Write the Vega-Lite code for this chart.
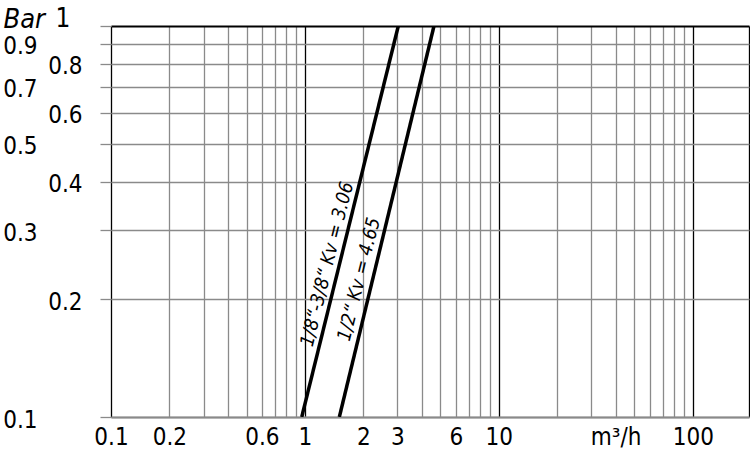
{
  "$schema": "https://vega.github.io/schema/vega-lite/v6.json",
  "width": 638,
  "height": 391,
  "autosize": {"type": "none"},
  "padding": {"left": 111, "top": 26, "right": 1, "bottom": 33},
  "background": "white",
  "config": {
    "view": {"stroke": null},
    "font": "Liberation Sans Narrow, DejaVu Sans Condensed, sans-serif"
  },
  "datasets": {
    "curves": [
      {"series": "a", "q": 0.963, "dp": 0.1},
      {"series": "a", "q": 3.03, "dp": 1.0},
      {"series": "b", "q": 1.505, "dp": 0.1},
      {"series": "b", "q": 4.63, "dp": 1.0}
    ],
    "labels": [
      {"text": "1/8“-3/8“ Kv = 3.06", "q": 1.3, "dp": 0.246},
      {"text": "1/2“ Kv = 4.65", "q": 1.9, "dp": 0.225}
    ]
  },
  "layer": [
    {
      "data": {"name": "curves"},
      "mark": {"type": "line", "color": "black", "strokeWidth": 3.5, "clip": true},
      "encoding": {
        "x": {
          "field": "q",
          "type": "quantitative",
          "scale": {"type": "log", "domain": [0.1, 195], "nice": false},
          "axis": {
            "values": [0.1, 0.2, 0.3, 0.4, 0.5, 0.6, 0.7, 0.8, 0.9, 1, 2, 3, 4, 5, 6, 7, 8, 9, 10, 20, 30, 40, 50, 60, 70, 80, 90, 100, 195],
            "grid": true,
            "gridColor": {"condition": {"test": "datum.value == 0.1 || datum.value == 1 || datum.value == 10 || datum.value == 100 || datum.value == 195", "value": "#000000"}, "value": "#8a8a8a"},
            "gridWidth": 1.3,
            "ticks": false,
            "domain": true,
            "domainColor": "#8a8a8a",
            "domainWidth": 2,
            "labelExpr": "indexof([0.1, 0.2, 0.6, 1, 2, 3, 6, 10, 100], datum.value) >= 0 ? '' + datum.value : (datum.value == 40 ? 'm³/h' : '')",
            "labelOverlap": false,
            "labelBound": false,
            "labelFlush": false,
            "labelFontSize": 24,
            "labelColor": "black",
            "labelPadding": 8,
            "title": null
          }
        },
        "y": {
          "field": "dp",
          "type": "quantitative",
          "scale": {"type": "log", "domain": [0.1, 1], "nice": false},
          "axis": {
            "values": [0.1, 0.2, 0.3, 0.4, 0.5, 0.6, 0.7, 0.8, 0.9, 1],
            "grid": true,
            "gridColor": {"condition": {"test": "datum.value == 1", "value": "#000000"}, "value": "#8a8a8a"},
            "gridWidth": {"condition": {"test": "datum.value == 1", "value": 2}, "value": 1.3},
            "tickColor": "#8a8a8a",
            "tickSize": 11,
            "tickWidth": 1.3,
            "domain": false,
            "labelExpr": "'' + datum.value",
            "labelOverlap": false,
            "labelBound": false,
            "labelFlush": false,
            "labelFontSize": {"condition": {"test": "datum.value == 1", "value": 26}, "value": 24},
            "labelColor": "black",
            "labelPadding": {"condition": [{"test": "indexof([0.9, 0.7, 0.5, 0.3, 0.1], datum.value) >= 0", "value": 63}, {"test": "datum.value == 1", "value": 30}], "value": 18},
            "labelBaseline": {"condition": {"test": "datum.value == 1", "value": "alphabetic"}, "value": "middle"},
            "labelOffset": {"condition": {"test": "datum.value == 1", "value": 0}, "value": 3},
            "title": "Bar",
            "titleAngle": 0,
            "titleFontStyle": "italic",
            "titleFontWeight": "normal",
            "titleFontSize": 27,
            "titleColor": "black",
            "titleAlign": "left",
            "titleBaseline": "alphabetic",
            "titleX": -108,
            "titleY": 1
          }
        },
        "detail": {"field": "series"}
      }
    },
    {
      "data": {"name": "labels"},
      "mark": {"type": "text", "angle": 284, "fontStyle": "italic", "fontSize": 19, "color": "black", "align": "center", "baseline": "middle"},
      "encoding": {
        "x": {"field": "q", "type": "quantitative"},
        "y": {"field": "dp", "type": "quantitative"},
        "text": {"field": "text"}
      }
    }
  ]
}
